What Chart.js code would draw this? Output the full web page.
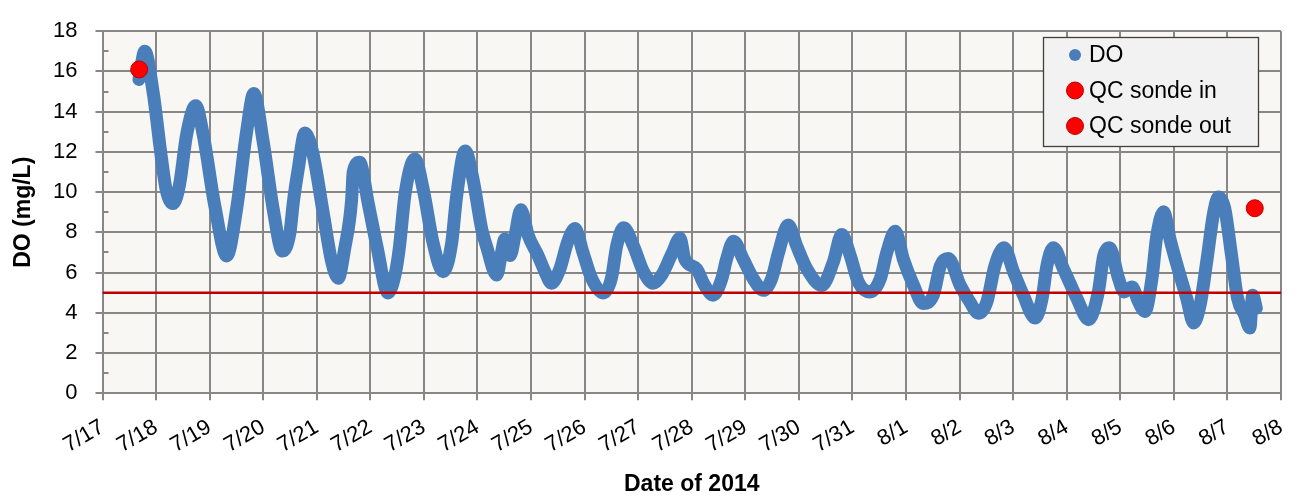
<!DOCTYPE html>
<html>
<head>
<meta charset="utf-8">
<script src="https://cdn.jsdelivr.net/npm/chart.js@4.4.1/dist/chart.umd.min.js"></script>
<style>
  html, body { margin: 0; padding: 0; background: #fff; }
</style>
</head>
<body>
<canvas id="doChart" width="1296" height="498"></canvas>
<script>
// Tick labels: one per day, 7/17 .. 8/8 (x value = days since 7/17 00:00)
const dateLabels = ['7/17', '7/18', '7/19', '7/20', '7/21', '7/22', '7/23', '7/24', '7/25', '7/26', '7/27',
  '7/28', '7/29', '7/30', '7/31', '8/1', '8/2', '8/3', '8/4', '8/5', '8/6', '8/7', '8/8'];

// DO sonde record
const doDays = [0.68, 0.79, 0.945, 1.10, 1.19, 1.32, 1.44, 1.57, 1.74, 1.88, 2.10, 2.32, 2.50, 2.69, 2.825,
  3.00, 3.19, 3.36, 3.50, 3.56, 3.65, 3.78, 3.93, 4.12, 4.28, 4.40, 4.52, 4.65, 4.68, 4.80, 4.96,
  5.12, 5.33, 5.46, 5.54, 5.65, 5.83, 5.99, 6.17, 6.36, 6.52, 6.61, 6.77, 6.92, 7.08, 7.17, 7.36,
  7.45, 7.51, 7.61, 7.70, 7.81, 7.95, 8.13, 8.26, 8.38, 8.54, 8.68, 8.82, 8.97, 9.13, 9.35, 9.50,
  9.60, 9.73, 9.91, 10.10, 10.28, 10.44, 10.63, 10.78, 10.87, 11.09, 11.24, 11.40, 11.56, 11.65,
  11.78, 11.96, 12.15, 12.34, 12.49, 12.62, 12.80, 12.96, 13.15, 13.43, 13.64, 13.80, 13.96, 14.11,
  14.33, 14.52, 14.64, 14.80, 14.95, 15.14, 15.32, 15.51, 15.64, 15.79, 16.01, 16.19, 16.35, 16.51,
  16.66, 16.83, 17.01, 17.19, 17.41, 17.54, 17.63, 17.75, 17.94, 18.19, 18.41, 18.59, 18.69, 18.80,
  18.97, 19.07, 19.22, 19.34, 19.46, 19.59, 19.68, 19.81, 19.93, 20.08, 20.24, 20.37, 20.49, 20.62,
  20.74, 20.83, 20.95, 21.07, 21.19, 21.32, 21.42, 21.47, 21.54];
const doValues = [15.6, 17.0, 14.96, 11.7, 10.1, 9.43, 10.4, 12.85, 14.3, 12.85, 9.27, 6.83, 9.1, 13.0, 14.9,
  12.5, 9.1, 7.07, 8.0, 9.45, 11.08, 12.94, 11.9, 8.97, 6.53, 5.72, 7.18, 9.6, 11.0, 11.48, 9.45,
  7.34, 4.99, 5.88, 7.2, 9.94, 11.65, 10.1, 7.5, 6.04, 7.5, 9.78, 12.05, 10.6, 8.15, 7.3, 5.88,
  7.0, 7.67, 6.85, 7.83, 9.13, 7.83, 6.85, 6.04, 5.47, 6.2, 7.5, 8.19, 7.0, 5.72, 4.99, 5.72,
  7.34, 8.23, 7.34, 6.04, 5.47, 5.88, 6.94, 7.72, 6.67, 6.18, 5.37, 4.88, 5.69, 6.67,
  7.56, 6.67, 5.69, 5.12, 5.69, 6.99, 8.37, 7.32, 6.18, 5.37, 6.5, 7.89, 6.83, 5.53,
  5.04, 5.69, 6.99, 8.05, 6.67, 5.37, 4.47, 4.88, 6.34, 6.7, 5.37, 4.55, 3.98, 4.55,
  6.34, 7.24, 6.02, 4.88, 3.74, 4.72, 6.34, 7.24, 6.18, 4.72, 3.66, 5.04, 6.83, 7.24,
  5.69, 5.04, 5.28, 4.55, 4.07, 5.69, 7.8, 9.02, 7.64, 6.18, 4.72, 3.5, 4.39, 6.67,
  8.94, 9.76, 9.19, 6.99, 4.72, 3.9, 3.25, 4.88, 4.23];

// QC checks
const qcInDay = [0.685];
const qcInValue = [16.1];
const qcOutDay = [21.51];
const qcOutValue = [9.2];

// 5 mg/L criterion line
const criterionDays = [0, 22];
const criterionValues = [5, 5];

const toPoints = (xs, ys) => xs.map((x, i) => ({ x: x, y: ys[i] }));

Chart.defaults.font.family = "'Liberation Sans', Arial, sans-serif";
Chart.defaults.font.size = 22;
Chart.defaults.color = '#000000';

const gridGrey = '#878787';

// plot area fill
const plotBackground = {
    id: 'plotBackground',
    beforeDraw(chart) {
        const { ctx, chartArea: a } = chart;
        ctx.save();
        ctx.fillStyle = '#f8f7f4';
        ctx.fillRect(a.left, a.top, a.right - a.left, a.bottom - a.top);
        ctx.restore();
    }
};

// short inward ticks at the odd values of the y axis
const minorTicks = {
    id: 'minorTicks',
    beforeDatasetsDraw(chart) {
        const { ctx, chartArea: a, scales } = chart;
        ctx.save();
        ctx.strokeStyle = gridGrey;
        ctx.lineWidth = 2;
        for (let v = 1; v < 18; v += 2) {
            const y = Math.round(scales.y.getPixelForValue(v));
            ctx.beginPath();
            ctx.moveTo(a.left, y);
            ctx.lineTo(a.left + 6, y);
            ctx.stroke();
        }
        ctx.restore();
    }
};

// boxed legend inside the plot, top right
const boxLegend = {
    id: 'boxLegend',
    afterDraw(chart) {
        const { ctx } = chart;
        const items = chart.data.datasets.filter(d => d.inLegend).sort((a, b) => a.legendRank - b.legendRank);
        const box = { x: 1043.5, y: 37.5, w: 215, h: 109 };
        ctx.save();
        ctx.fillStyle = '#f2f2f2';
        ctx.fillRect(box.x, box.y, box.w, box.h);
        ctx.strokeStyle = '#404040';
        ctx.lineWidth = 1.3;
        ctx.strokeRect(box.x, box.y, box.w, box.h);
        ctx.font = "23px 'Liberation Sans', Arial, sans-serif";
        ctx.textBaseline = 'middle';
        ctx.textAlign = 'left';
        items.forEach((d, i) => {
            const cy = box.y + 17.5 + i * 35.5;
            ctx.beginPath();
            ctx.arc(1075, cy, d.legendRadius, 0, Math.PI * 2);
            ctx.fillStyle = d.backgroundColor;
            ctx.fill();
            if (d.pointBorderWidth) {
                ctx.lineWidth = 1;
                ctx.strokeStyle = d.pointBorderColor;
                ctx.stroke();
            }
            ctx.fillStyle = '#000';
            ctx.fillText(d.label, 1089, cy + 1);
        });
        ctx.restore();
    }
};

new Chart(document.getElementById('doChart'), {
    type: 'scatter',
    data: {
        datasets: [
            {
                label: 'QC sonde in',
                data: toPoints(qcInDay, qcInValue),
                backgroundColor: '#ff0000',
                pointBorderColor: '#c00000',
                pointBorderWidth: 1,
                pointRadius: 8.5,
                inLegend: true, legendRank: 2, legendRadius: 8.5,
                order: 1
            },
            {
                label: 'QC sonde out',
                data: toPoints(qcOutDay, qcOutValue),
                backgroundColor: '#ff0000',
                pointBorderColor: '#c00000',
                pointBorderWidth: 1,
                pointRadius: 8.5,
                inLegend: true, legendRank: 3, legendRadius: 8.5,
                order: 1
            },
            {
                label: '5 mg/L',
                data: toPoints(criterionDays, criterionValues),
                showLine: true,
                borderColor: '#c00000',
                borderWidth: 2.5,
                pointRadius: 0,
                order: 2
            },
            {
                label: 'DO',
                data: toPoints(doDays, doValues),
                showLine: true,
                borderColor: '#4a7ebb',
                backgroundColor: '#4a7ebb',
                borderWidth: 13,
                borderJoinStyle: 'round',
                borderCapStyle: 'round',
                cubicInterpolationMode: 'monotone',
                pointRadius: 0,
                inLegend: true, legendRank: 1, legendRadius: 6,
                order: 3
            }
        ]
    },
    options: {
        responsive: false,
        animation: false,
        layout: { padding: { left: 0, top: 24, right: 15, bottom: 0 } },
        plugins: {
            legend: { display: false },
            tooltip: { enabled: false }
        },
        scales: {
            x: {
                type: 'linear',
                min: 0,
                max: 22,
                afterFit(scale) {
                    scale.height = 104.7;
                    scale.paddingRight = 0;
                },
                grid: {
                    color: gridGrey,
                    lineWidth: 2,
                    tickLength: 7,
                    tickColor: gridGrey
                },
                border: { color: gridGrey, width: 2 },
                ticks: {
                    stepSize: 1,
                    autoSkip: false,
                    minRotation: 30,
                    maxRotation: 30,
                    padding: 14,
                    callback: function(value) {
                        return dateLabels[value];
                    }
                },
                title: {
                    display: true,
                    text: 'Date of 2014',
                    font: { size: 23, weight: 'bold' },
                    padding: { top: 0, bottom: 0 }
                }
            },
            y: {
                min: 0,
                max: 18,
                afterFit(scale) { scale.width = 102.5; },
                grid: {
                    color: gridGrey,
                    lineWidth: 2,
                    tickLength: 7,
                    tickColor: gridGrey
                },
                border: { color: gridGrey, width: 2 },
                ticks: {
                    stepSize: 2,
                    padding: 18
                },
                title: {
                    display: true,
                    text: 'DO (mg/L)',
                    font: { size: 23, weight: 'bold' },
                    padding: { top: 10, bottom: 0 }
                }
            }
        }
    },
    plugins: [plotBackground, minorTicks, boxLegend]
});
</script>
</body>
</html>
